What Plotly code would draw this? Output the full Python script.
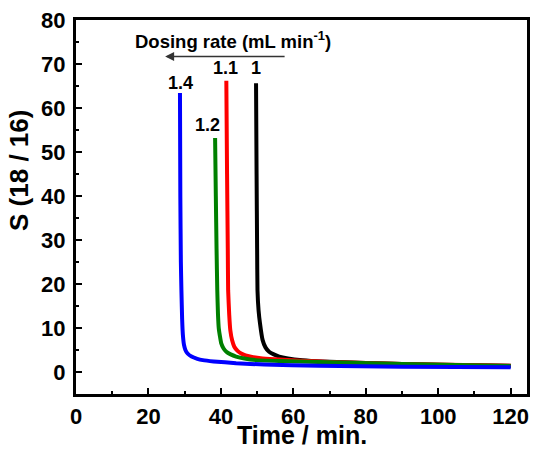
import plotly.graph_objects as go

# Selectivity S(18/16) versus time for four dosing rates (mL/min)
t_rate_1 = [49.7, 49.85, 50.0, 50.1, 50.4, 50.8, 51.5, 52.3, 53.3, 54.6, 56.1, 58.5,
            62.5, 68.0, 80.0, 100.0, 120.0]
s_rate_1 = [65.6, 45.0, 28.0, 18.6, 14.0, 11.0, 7.3, 5.6, 4.6, 4.0, 3.5, 3.1,
            2.7, 2.4, 2.05, 1.65, 1.4]

t_rate_1_1 = [41.5, 41.7, 41.9, 42.0, 42.3, 42.6, 43.1, 43.7, 44.6, 45.6, 46.8, 48.3,
              51.0, 55.0, 62.0, 70.0, 90.0, 120.0]
s_rate_1_1 = [66.2, 45.0, 28.0, 18.6, 13.0, 9.5, 7.2, 5.75, 4.8, 4.2, 3.8, 3.5,
              3.15, 2.9, 2.55, 2.3, 1.8, 1.4]

t_rate_1_2 = [38.4, 38.6, 38.8, 39.0, 39.2, 39.4, 39.8, 40.1, 40.7, 41.5, 42.7, 44.2,
              46.5, 49.7, 56.0, 67.0, 90.0, 120.0]
s_rate_1_2 = [53.2, 40.0, 28.0, 18.6, 13.0, 10.0, 7.8, 6.5, 5.4, 4.6, 4.0, 3.5,
              3.05, 2.7, 2.5, 2.3, 1.8, 1.35]

t_rate_1_4 = [28.7, 28.8, 28.95, 29.1, 29.3, 29.5, 29.8, 30.2, 30.8, 31.9, 33.5, 35.0,
              38.0, 44.2, 52.0, 67.0, 90.0, 120.0]
s_rate_1_4 = [63.4, 40.0, 25.0, 18.6, 12.0, 8.5, 6.2, 5.0, 4.2, 3.5, 3.0, 2.7,
              2.4, 2.0, 1.7, 1.4, 1.2, 1.1]

rate_labels = ["1", "1.1", "1.2", "1.4"]
label_t = [49.8, 41.4, 36.3, 28.9]
label_s = [69.1, 69.1, 56.1, 65.7]

x_ticks = [0, 20, 40, 60, 80, 100, 120]
y_ticks = [0, 10, 20, 30, 40, 50, 60, 70, 80]

FONT = "Liberation Sans, Arial, sans-serif"

series = [
    (t_rate_1, s_rate_1, "#000000"),
    (t_rate_1_1, s_rate_1_1, "#ff0000"),
    (t_rate_1_2, s_rate_1_2, "#008000"),
    (t_rate_1_4, s_rate_1_4, "#0000ff"),
]

fig = go.Figure()
for t, s, c in series:
    fig.add_trace(go.Scatter(x=t, y=s, mode="lines",
                             line=dict(color=c, width=4, shape="spline", smoothing=0.4),
                             showlegend=False, hoverinfo="skip"))

annotations = []
for lab, lt, ls in zip(rate_labels, label_t, label_s):
    annotations.append(dict(x=lt, y=ls, xref="x", yref="y", text=lab,
                            showarrow=False, xanchor="center", yanchor="middle",
                            font=dict(family=FONT, size=18, color="black", weight="bold")))

# dosing-rate arrow and caption
annotations.append(dict(x=24.6, y=71.7, ax=58.0, ay=71.7, xref="x", yref="y",
                        axref="x", ayref="y", text="", showarrow=True,
                        arrowhead=2, arrowsize=1.2, arrowwidth=1.5, arrowcolor="#333333"))
annotations.append(dict(x=15.6, y=75.4, xref="x", yref="y",
                        text="Dosing rate (mL min<sup>-1</sup>)", showarrow=False,
                        xanchor="left", yanchor="middle",
                        font=dict(family=FONT, size=18.5, color="black", weight="bold")))

# axis titles
annotations.append(dict(x=0.5, y=-0.1497, xref="paper", yref="paper",
                        text="Time / min.", showarrow=False,
                        xanchor="center", yanchor="bottom", borderpad=0,
                        font=dict(family=FONT, size=25, color="black", weight="bold")))
annotations.append(dict(x=-0.125, y=0.598, xref="paper", yref="paper",
                        text="S (18 / 16)", showarrow=False, textangle=-90,
                        xanchor="center", yanchor="middle",
                        font=dict(family=FONT, size=26, color="black", weight="bold")))

axis_common = dict(
    showgrid=False, zeroline=False, showline=True, linecolor="black", linewidth=3,
    mirror=True, ticks="inside", ticklen=6, tickwidth=2, tickcolor="black",
    tickfont=dict(family=FONT, size=22, color="black", weight="bold"),
)

fig.update_layout(
    width=536, height=449,
    margin=dict(l=76, r=6, t=20, b=55),
    paper_bgcolor="white", plot_bgcolor="white",
    xaxis=dict(range=[0, 124.5], tickvals=x_ticks, ticklabelstandoff=1,
               minor=dict(dtick=10, tick0=0, ticks="inside", ticklen=3, tickwidth=2, tickcolor="black"),
               **axis_common),
    yaxis=dict(range=[-5, 80], tickvals=y_ticks, ticklabelstandoff=3,
               minor=dict(dtick=5, tick0=0, ticks="inside", ticklen=3, tickwidth=2, tickcolor="black"),
               **axis_common),
    annotations=annotations,
)

fig.write_html("out.html")
